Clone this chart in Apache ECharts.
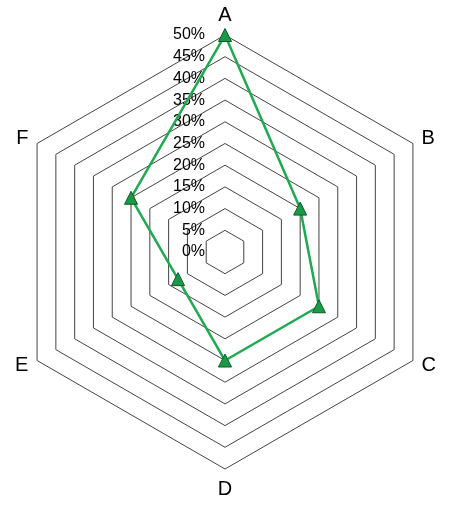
<!DOCTYPE html>
<html style="height: 100%">
  <head>
    <meta charset="UTF-8" />
    <title>Radar</title>
    <script src="https://cdn.jsdelivr.net/npm/echarts@6/dist/echarts.min.js"></script>
  </head>
  <body style="height: 100%; margin: 0; background: #fff">
    <div id="main" style="width: 450px; height: 510px"></div>
    <script>
      const chart = echarts.init(document.getElementById('main'))

      const categories = ['A', 'B', 'C', 'D', 'E', 'F']
      const values = [50, 20, 25, 25, 12.5, 25]
      const axisMax = 50
      const axisStep = 5

      // radar goes counter-clockwise, so keep A on top and walk the rest backwards
      const order = [0, 5, 4, 3, 2, 1]

      const indicator = order.map((k, i) => ({
        name: categories[k],
        min: 0,
        max: axisMax,
        // only the first axis carries the % labels
        axisLabel: { show: i === 0 },
      }))
      const seriesValues = order.map((k) => values[k])

      const option = {
        animation: false,
        radar: {
          center: [225, 252],
          radius: 217,
          startAngle: 90,
          shape: 'polygon',
          splitNumber: axisMax / axisStep,
          indicator: indicator,
          axisName: {
            color: '#000',
            fontSize: 20,
            fontFamily: 'Liberation Sans',
          },
          nameGap: 10,
          axisLine: { show: false },
          axisTick: { show: false },
          splitArea: { show: false },
          splitLine: {
            lineStyle: { color: '#444', width: 1 },
          },
          axisLabel: {
            show: true,
            color: '#000',
            fontSize: 16,
            fontFamily: 'Liberation Sans',
            margin: 20,
            formatter: '{value}%',
          },
        },
        series: [
          {
            type: 'radar',
            symbol: 'triangle',
            symbolSize: 13,
            lineStyle: { color: '#1eaa50', width: 2.5 },
            itemStyle: { color: '#1a9a46', borderColor: '#0b5a28', borderWidth: 1 },
            data: [{ value: seriesValues }],
          },
        ],
      }

      chart.setOption(option)
    </script>
  </body>
</html>
